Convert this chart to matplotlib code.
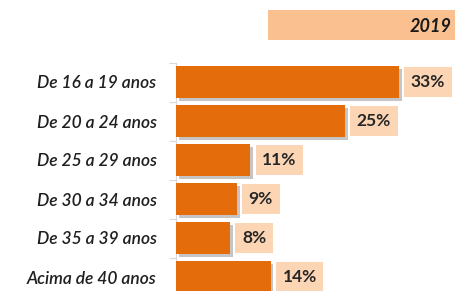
import matplotlib
matplotlib.use("Agg")
import matplotlib.pyplot as plt
from matplotlib.patches import Rectangle
import matplotlib.patheffects as pe

categories = ["De 16 a 19 anos", "De 20 a 24 anos", "De 25 a 29 anos",
              "De 30 a 34 anos", "De 35 a 39 anos", "Acima de 40 anos"]
values = [33, 25, 11, 9, 8, 14]
labels = ["33%", "25%", "11%", "9%", "8%", "14%"]
title = "2019"

W, H = 456, 291
fig = plt.figure(figsize=(W / 100, H / 100), dpi=100)
plt.rcParams['font.family'] = ['Lato', 'DejaVu Sans']

left = 176 / W
top_px = 62.5
band = 39
n = len(categories)
bottom_px = top_px + band * n
ax = fig.add_axes([left, (H - bottom_px) / H, (W - 176) / W, (bottom_px - top_px) / H])
ax.set_xlim(0, (W - 176) / 6.76)
ax.set_ylim(n - 0.5, -0.5)

ypos = list(range(n))
ax.barh(ypos, values, height=0.82, color="#E46C0A", zorder=3,
        path_effects=[pe.SimplePatchShadow(offset=(2, -2), shadow_rgbFace="#7f7f7f", alpha=0.45), pe.Normal()])

for y, v, lab in zip(ypos, values, labels):
    ax.text(v + 1.75, y, lab, ha="left", va="center", fontsize=12.5, fontweight="bold",
            color="#262626", zorder=4,
            bbox=dict(boxstyle="square,pad=0.38", facecolor="#FCD5B5", edgecolor="none"))

ax.set_yticks(ypos)
ax.set_yticklabels(categories, fontsize=12.5, fontstyle="italic", fontweight="semibold",
                   color="#1f1f1f")
ax.tick_params(axis="y", which="major", length=0, pad=14)
ax.set_yticks([i - 0.5 for i in range(n + 1)], minor=True)
ax.tick_params(axis="y", which="minor", length=5, color="#D9D9D9", width=0.8)
ax.set_xticks([])
for s in ["top", "right", "bottom"]:
    ax.spines[s].set_visible(False)
ax.spines["left"].set_color("#D9D9D9")
ax.spines["left"].set_linewidth(0.8)

fig.patches.append(Rectangle((268 / W, (H - 40) / H), (W - 268) / W, 30 / H,
                             transform=fig.transFigure, facecolor="#FAC090",
                             edgecolor="none", zorder=0))
fig.text(452 / W, 1 - 27 / H, title, ha="right", va="center", fontsize=13,
         fontweight="bold", fontstyle="italic", color="#1a1a1a")

fig.savefig("out.png", dpi=100)
